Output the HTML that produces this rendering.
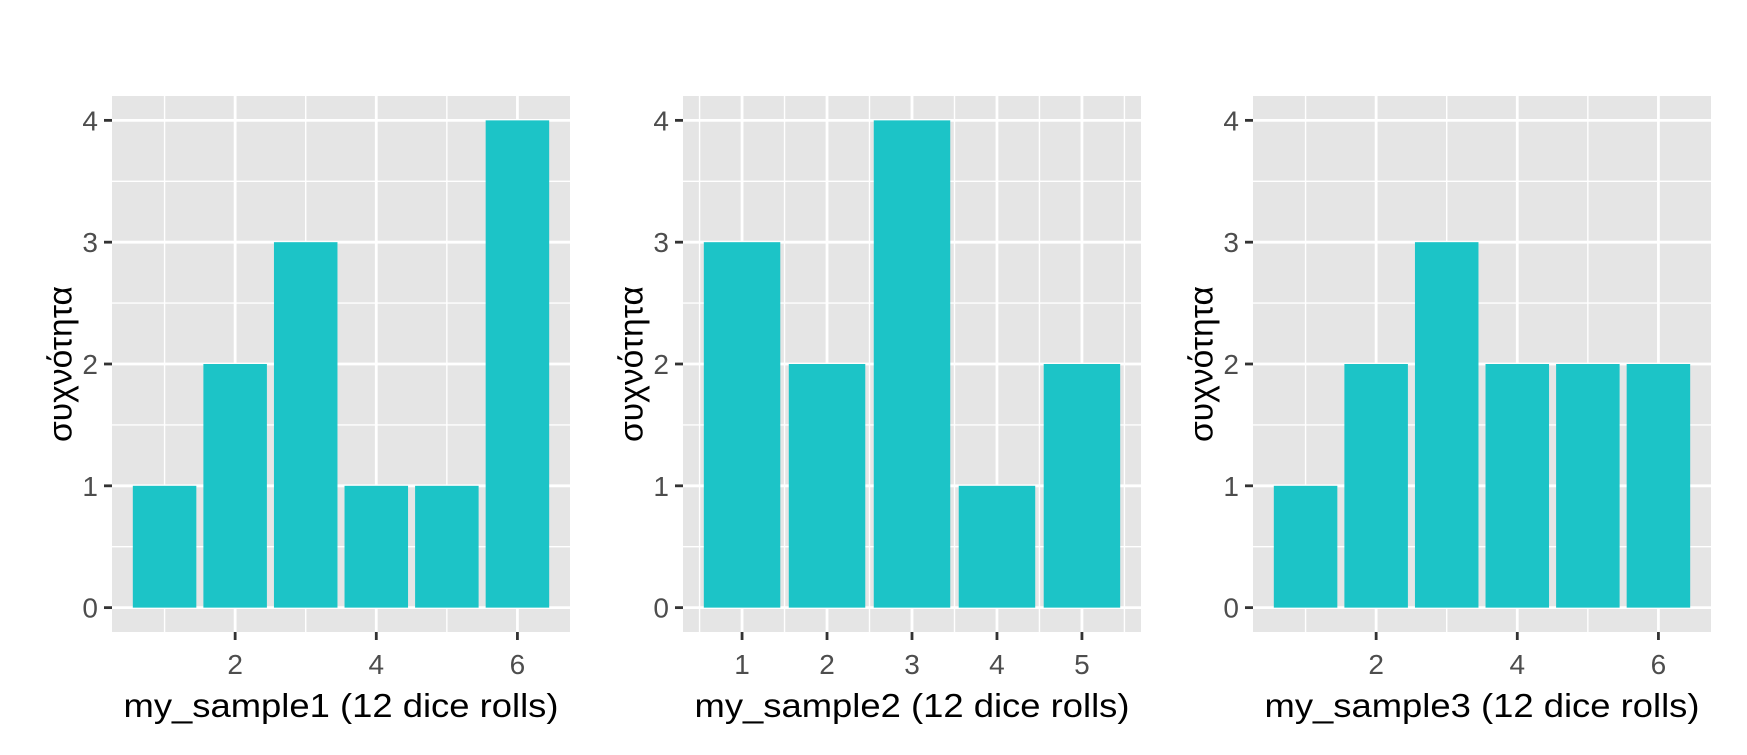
<!DOCTYPE html>
<html><head><meta charset="utf-8"><style>
html,body{margin:0;padding:0;background:#fff;}
svg{display:block;font-family:"Liberation Sans",Arial,sans-serif;}
</style></head><body>
<svg id="chart" width="1747" height="755" xmlns="http://www.w3.org/2000/svg"></svg>
<script>
const sample1Cats = [1,2,3,4,5,6];
const sample1Vals = [1,2,3,1,1,4];
const sample2Cats = [1,2,3,4,5];
const sample2Vals = [3,2,4,1,2];
const sample3Cats = [1,2,3,4,5,6];
const sample3Vals = [1,2,3,2,2,2];
const yTicks = [0,1,2,3,4];
const xTicks1 = [2,4,6];
const xTicks2 = [1,2,3,4,5];
const xTicks3 = [2,4,6];
const xTitles = ["my_sample1 (12 dice rolls)","my_sample2 (12 dice rolls)","my_sample3 (12 dice rolls)"];
const yTitle = "συχνότητα";

const NS="http://www.w3.org/2000/svg";
const svg=document.getElementById('chart');
function mk(tag,attrs,parent){const e=document.createElementNS(NS,tag);for(const k in attrs)e.setAttribute(k,attrs[k]);(parent||svg).appendChild(e);return e;}

const panels=[
 {left:112,cats:sample1Cats,vals:sample1Vals,ticks:xTicks1,minor:[1,3,5],name:'sample1'},
 {left:683,cats:sample2Cats,vals:sample2Vals,ticks:xTicks2,minor:[0.5,1.5,2.5,3.5,4.5,5.5],name:'sample2'},
 {left:1253,cats:sample3Cats,vals:sample3Vals,ticks:xTicks3,minor:[1,3,5],name:'sample3'}
];
const W=458, panelTop=96, panelBottom=632;
panels.forEach((p,i)=>{
  const g=mk('g',{});
  
  
  const lo=Math.min(...p.cats)-0.45, hi=Math.max(...p.cats)+0.45, ex=(hi-lo)*0.05;
  const x0=lo-ex, x1=hi+ex;
  const xs=v=>p.left+(v-x0)/(x1-x0)*W;
  const y0=-0.2, y1=4.2;
  const ys=v=>panelBottom-(v-y0)/(y1-y0)*(panelBottom-panelTop);
  const bg=mk('rect',{x:p.left,y:panelTop,width:W,height:panelBottom-panelTop,fill:'#E5E5E5'},g);
  
  
  [0.5,1.5,2.5,3.5].forEach(v=>mk('line',{x1:p.left,x2:p.left+W,y1:ys(v),y2:ys(v),stroke:'#fff','stroke-width':1.4},g));
  p.minor.forEach(v=>{if(v>x0&&v<x1)mk('line',{x1:xs(v),x2:xs(v),y1:panelTop,y2:panelBottom,stroke:'#fff','stroke-width':1.4},g);});
  yTicks.forEach(v=>mk('line',{x1:p.left,x2:p.left+W,y1:ys(v),y2:ys(v),stroke:'#fff','stroke-width':2.8},g));
  p.ticks.forEach(v=>mk('line',{x1:xs(v),x2:xs(v),y1:panelTop,y2:panelBottom,stroke:'#fff','stroke-width':2.8},g));
  p.cats.forEach((c,j)=>{
    const r=mk('rect',{x:xs(c-0.45),y:ys(p.vals[j]),width:xs(c+0.45)-xs(c-0.45),height:ys(0)-ys(p.vals[j]),fill:'#1CC4C7'},g);
    
    
  });
  yTicks.forEach(v=>{
    mk('line',{x1:p.left-8,x2:p.left,y1:ys(v),y2:ys(v),stroke:'#333','stroke-width':2.8},g);
    const t=mk('text',{x:p.left-14,y:ys(v)+10,'text-anchor':'end','font-size':28,fill:'#4D4D4D'},g);
    t.textContent=v;
    
    
  });
  p.ticks.forEach(v=>{
    mk('line',{x1:xs(v),x2:xs(v),y1:panelBottom,y2:panelBottom+8,stroke:'#333','stroke-width':2.8},g);
    const t=mk('text',{x:xs(v),y:674,'text-anchor':'middle','font-size':28,fill:'#4D4D4D'},g);
    t.textContent=v;
    
    
  });
  const xt=mk('text',{x:p.left+W/2,y:717,'text-anchor':'middle','font-size':33,fill:'#000',textLength:435,lengthAdjust:'spacingAndGlyphs'},g);
  xt.textContent=xTitles[i];
  
  
  const yx=p.left-52, yc=(panelTop+panelBottom)/2;
  const yt=mk('text',{x:yx,y:yc,'text-anchor':'middle','font-size':33,fill:'#000',transform:`rotate(-90 ${yx} ${yc})`,dy:'0.35em',textLength:156,lengthAdjust:'spacingAndGlyphs'},g);
  yt.textContent=yTitle;
  
  
});
</script>
</body></html>
